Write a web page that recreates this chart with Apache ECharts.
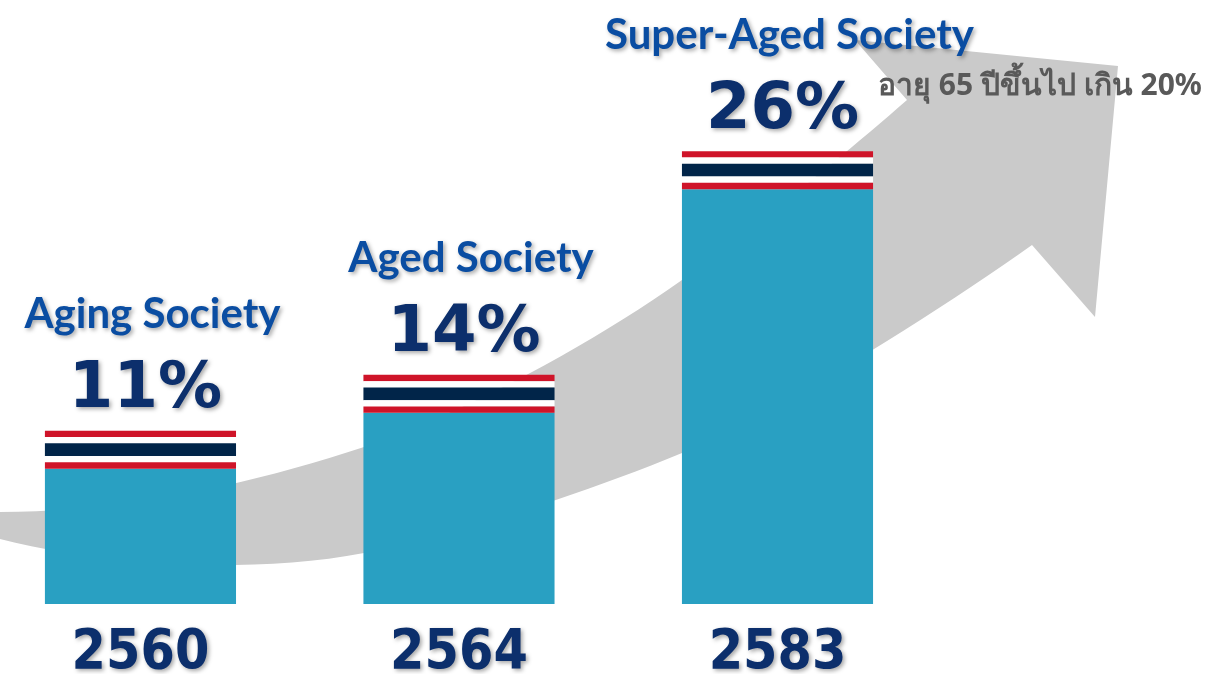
<!DOCTYPE html>
<html>
<head>
<meta charset="utf-8">
<script src="https://cdn.jsdelivr.net/npm/echarts@6/dist/echarts.min.js"></script>
<style>
  html, body { margin: 0; padding: 0; background: #fff; }
  #chart { width: 1211px; height: 674px; }
</style>
</head>
<body>
<div id="chart"></div>
<script>
const years = ["2560", "2564", "2583"];
const shares = [11, 14, 26];
const stages = ["Aging Society", "Aged Society", "Super-Aged Society"];
const note = "อายุ 65 ปีขึ้นไป เกิน 20%";

const NAVY = "#0c2f6c";
const FLAG = 38; // flag cap height in px
const stripes = [
  ["#cf1429", 1], ["#ffffff", 1], ["#012549", 2], ["#ffffff", 1], ["#cf1429", 1]
];
const yearFont = '"DejaVu Sans Condensed", "DejaVu Sans", sans-serif';
const pctFont = '"DejaVu Sans", sans-serif';

// background arrow outline, built from cubic segments
function cubic(p0, p1, p2, p3, out) {
  for (let t = 0.05; t <= 1.0001; t += 0.05) {
    const u = 1 - t;
    out.push([
      u * u * u * p0[0] + 3 * u * u * t * p1[0] + 3 * u * t * t * p2[0] + t * t * t * p3[0],
      u * u * u * p0[1] + 3 * u * u * t * p1[1] + 3 * u * t * t * p2[1] + t * t * t * p3[1]
    ]);
  }
}
const arrow = [[0, 512]];
cubic([0, 512], [120, 512], [250, 485], [364, 447], arrow);
cubic([364, 447], [470, 410], [590, 345], [682, 280], arrow);
cubic([682, 280], [770, 215], [850, 150], [907, 100], arrow);
arrow.push([855, 40], [1118, 66], [1095, 317], [1032, 245]);
cubic([1032, 245], [940, 310], [800, 400], [682, 453], arrow);
cubic([682, 453], [580, 495], [470, 530], [364, 553], arrow);
cubic([364, 553], [250, 575], [100, 565], [0, 539], arrow);

const chart = echarts.init(document.getElementById("chart"));

function renderBar(params, api) {
  const i = api.value(0);
  const v = api.value(1);
  const top = api.coord([i, v]);
  const base = params.coordSys.y + params.coordSys.height;
  const w = api.size([0.6, 0])[0];
  const cx = top[0];
  const x = cx - w / 2;
  const y = top[1];
  const kids = [];

  kids.push({
    type: "rect",
    shape: { x: x, y: y + FLAG, width: w, height: base - y - FLAG },
    style: { fill: "#29a0c2" }
  });
  let sy = y;
  stripes.forEach(function (s) {
    const h = FLAG * s[1] / 6;
    kids.push({ type: "rect", shape: { x: x, y: sy, width: w, height: h }, style: { fill: s[0] } });
    sy += h;
  });

  kids.push({
    type: "text",
    style: {
      text: v + "%", x: cx + 5, y: y - 40, align: "center", verticalAlign: "middle",
      font: "bold 64px " + pctFont, fill: NAVY,
      textShadowColor: "rgba(0,0,0,0.35)", textShadowBlur: 4,
      textShadowOffsetX: 2, textShadowOffsetY: 2
    }
  });
  kids.push({
    type: "text",
    style: {
      text: stages[params.dataIndex], x: cx + 12, y: y - 116, align: "center", verticalAlign: "middle",
      font: "bold 42px Lato, sans-serif", fill: "#0a4da2",
      textShadowColor: "rgba(0,0,0,0.35)", textShadowBlur: 4,
      textShadowOffsetX: 2, textShadowOffsetY: 2
    }
  });
  return { type: "group", children: kids };
}

const option = {
  animation: false,
  grid: { left: 0, right: 0, top: 4, bottom: 70, outerBoundsMode: "none", containLabel: false },
  xAxis: {
    type: "value",
    min: -0.441,
    max: 3.361,
    splitLine: { show: false },
    axisLine: { show: false },
    axisTick: { show: false },
    axisLabel: {
      customValues: [0, 1, 2],
      formatter: function (v) { return years[Math.round(v)]; },
      margin: 22,
      fontFamily: yearFont,
      fontWeight: "bold",
      fontSize: 55,
      lineHeight: 55,
      color: NAVY,
      textShadowColor: "rgba(0,0,0,0.35)",
      textShadowBlur: 4,
      textShadowOffsetX: 2,
      textShadowOffsetY: 2
    }
  },
  yAxis: {
    type: "value",
    min: 1.7,
    max: 33.9,
    show: false,
    splitLine: { show: false }
  },
  graphic: [
    {
      type: "polygon",
      z: 0,
      shape: { points: arrow },
      style: { fill: "#cacaca" }
    },
    {
      type: "text",
      z: 10,
      left: 878,
      top: 71,
      style: {
        text: note,
        font: 'bold 30px "Noto Sans", "DejaVu Sans", sans-serif',
        fill: "#595959"
      }
    }
  ],
  series: [
    {
      type: "custom",
      renderItem: renderBar,
      encode: { x: 0, y: 1 },
      data: shares.map(function (v, i) { return [i, v]; })
    }
  ]
};

chart.setOption(option);
window.addEventListener("resize", function () { chart.resize(); });
</script>
</body>
</html>
